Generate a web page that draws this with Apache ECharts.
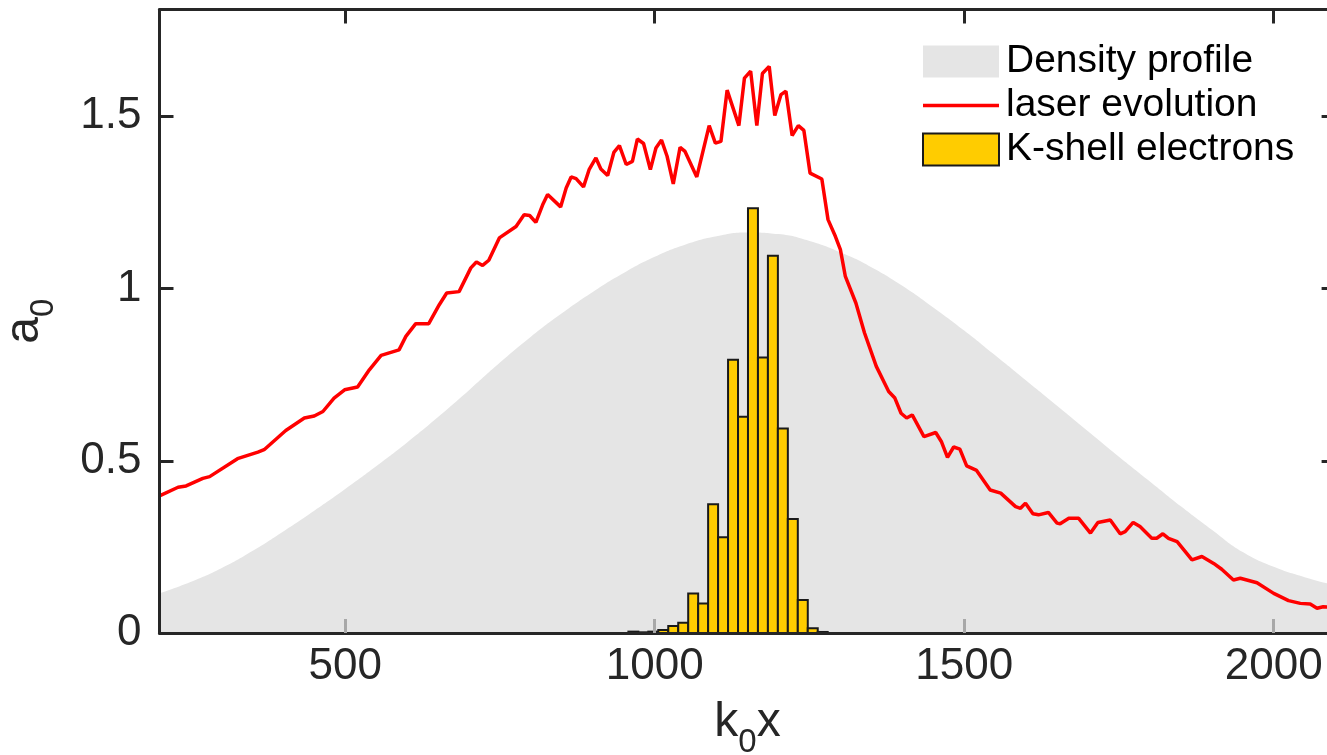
<!DOCTYPE html>
<html>
<head>
<meta charset="utf-8">
<script src="https://cdn.jsdelivr.net/npm/echarts@6/dist/echarts.min.js"></script>
<style>
    html, body { margin: 0; padding: 0; background: #fff; }
    #chart { width: 1327px; height: 755px; }
</style>
</head>
<body>
<div id="chart"></div>
<script>
// laser evolution (a0 against k0x)
const laserX = [200, 230, 243, 270, 281, 326, 359, 369, 404, 434, 450, 464, 482, 499, 520, 539, 558, 587, 598, 614,
    635, 652, 664, 684, 703, 712, 722, 732, 749, 776, 789, 798, 808, 819, 827, 848, 857, 865, 873, 885,
    894, 905, 913, 924, 934, 943, 954, 964, 972, 982, 993, 1002, 1011, 1020, 1030, 1041, 1049, 1068, 1088, 1098,
    1107, 1117, 1136, 1145, 1155, 1165, 1174, 1185, 1194, 1204, 1212, 1222, 1232, 1241, 1251, 1270, 1280, 1292, 1300, 1308,
    1325, 1339, 1358, 1378, 1388, 1398, 1407, 1416, 1435, 1454, 1463, 1473, 1483, 1493, 1504, 1520, 1542, 1559, 1583, 1591,
    1599, 1611, 1620, 1636, 1650, 1655, 1669, 1685, 1704, 1716, 1736, 1752, 1760, 1773, 1784, 1803, 1811, 1821, 1830, 1844,
    1868, 1884, 1903, 1916, 1935, 1946, 1973, 2000, 2024, 2043, 2059, 2070, 2080, 2100];
const laserY = [0.398, 0.423, 0.427, 0.449, 0.454, 0.506, 0.525, 0.532, 0.588, 0.624, 0.630, 0.643, 0.682, 0.706, 0.714, 0.764, 0.806, 0.822, 0.861, 0.898,
    0.898, 0.953, 0.987, 0.991, 1.060, 1.077, 1.067, 1.082, 1.147, 1.180, 1.214, 1.212, 1.192, 1.243, 1.273, 1.237, 1.292, 1.324, 1.319, 1.295,
    1.345, 1.379, 1.347, 1.328, 1.395, 1.415, 1.360, 1.369, 1.434, 1.421, 1.345, 1.408, 1.431, 1.384, 1.304, 1.410, 1.398, 1.324, 1.473, 1.422,
    1.427, 1.576, 1.473, 1.611, 1.631, 1.473, 1.624, 1.645, 1.502, 1.563, 1.573, 1.444, 1.473, 1.459, 1.335, 1.318, 1.200, 1.151, 1.113, 1.035,
    0.958, 0.871, 0.774, 0.701, 0.682, 0.638, 0.624, 0.633, 0.570, 0.582, 0.556, 0.510, 0.540, 0.534, 0.485, 0.472, 0.415, 0.406, 0.367, 0.362,
    0.377, 0.346, 0.343, 0.350, 0.319, 0.317, 0.333, 0.333, 0.290, 0.321, 0.328, 0.288, 0.294, 0.321, 0.309, 0.275, 0.275, 0.288, 0.275, 0.265,
    0.212, 0.222, 0.202, 0.185, 0.154, 0.159, 0.146, 0.115, 0.094, 0.086, 0.084, 0.072, 0.076, 0.074];

// density profile
const densityX = [200, 250, 300, 350, 400, 450, 500, 550, 600, 650, 700, 750, 800, 850, 900, 950, 1000, 1050, 1100, 1150,
    1200, 1250, 1300, 1350, 1400, 1450, 1500, 1550, 1600, 1650, 1700, 1750, 1800, 1850, 1900, 1950, 2000, 2050, 2100];
const densityY = [0.115, 0.148, 0.188, 0.238, 0.295, 0.355, 0.418, 0.484, 0.553, 0.627, 0.705, 0.785, 0.860, 0.928, 0.990, 1.045, 1.092, 1.128, 1.152, 1.163,
    1.158, 1.138, 1.105, 1.062, 1.008, 0.945, 0.878, 0.806, 0.733, 0.660, 0.586, 0.512, 0.440, 0.368, 0.300, 0.235, 0.192, 0.162, 0.138];

// K-shell electrons histogram: bin left edges and heights
const binStart = [957.5, 973.6, 989.7, 1005.8, 1021.9, 1038.0, 1054.1, 1070.2, 1086.3, 1102.4,
    1118.5, 1134.6, 1150.7, 1166.8, 1182.9, 1199.0, 1215.1, 1231.2, 1247.3, 1263.4];
const binHeight = [0.004, 0.002, 0.004, 0.009, 0.020, 0.030, 0.115, 0.086, 0.374, 0.278,
    0.793, 0.628, 1.233, 0.800, 1.095, 0.594, 0.331, 0.096, 0.014, 0.003];
const binWidth = 16.1;

const xTicks = [500, 1000, 1500, 2000];
const yTicks = [0, 0.5, 1, 1.5];
const yTickLabels = ['0', '0.5', '1', '1.5'];

const fontName = '"Liberation Sans", Arial, Helvetica, sans-serif';
const axisColor = '#262626';

const zip = (xs, ys) => xs.map((x, i) => [x, ys[i]]);

function renderBin(params, api) {
    const x0 = api.value(0);
    const h = api.value(1);
    const p0 = api.coord([x0, 0]);
    const p1 = api.coord([x0 + binWidth, h]);
    return {
        type: 'rect',
        shape: { x: p0[0], y: p1[1], width: p1[0] - p0[0], height: p0[1] - p1[1] },
        style: { fill: '#ffcc00', stroke: '#1a1a1a', lineWidth: 2 }
    };
}

// subscript: the taller line box pushes the small 0 below the main letters
const nameRich = {
    n: { fontSize: 48, fontFamily: fontName, color: axisColor, lineHeight: 48, verticalAlign: 'top' },
    s: { fontSize: 33, fontFamily: fontName, color: axisColor, lineHeight: 60, verticalAlign: 'bottom' }
};

function boxAxis(position, min, max, ticks) {
    return {
        type: 'value', position: position, min: min, max: max, z: 5,
        axisLine: { show: true, onZero: false, lineStyle: { color: axisColor, width: 3 } },
        axisTick: { show: true, inside: true, length: 14, customValues: ticks, lineStyle: { color: axisColor, width: 3 } },
        axisLabel: { show: false },
        splitLine: { show: false }
    };
}

const myChart = echarts.init(document.getElementById('chart'));
myChart.setOption({
    backgroundColor: '#fff',
    animation: false,
    grid: { left: 159.5, right: -8.6, top: 9.5, bottom: 122, containLabel: false, outerBoundsMode: 'none' },
    legend: {
        orient: 'vertical', left: 922, top: 42, padding: 0,
        itemWidth: 76, itemHeight: 32, itemGap: 5,
        textStyle: { fontSize: 39, fontFamily: fontName, color: '#000', lineHeight: 32, padding: [0, 0, 0, 2] },
        data: [
            { name: 'Density profile', icon: 'rect', itemStyle: { color: '#e5e5e5', borderWidth: 0, opacity: 1 } },
            { name: 'laser evolution', icon: 'path://M0,0H76V3.5H0Z', itemStyle: { color: '#ff0000', borderWidth: 0 } },
            { name: 'K-shell electrons', icon: 'rect', itemStyle: { color: '#ffcc00', borderColor: '#1a1a1a', borderWidth: 2 } }
        ]
    },
    xAxis: [
        Object.assign(boxAxis('bottom', 200, 2100, xTicks), {
            axisTick: { show: true, inside: true, length: 14, customValues: xTicks, lineStyle: { color: '#a8a8a8', width: 3 } },
            axisLabel: {
                show: true, customValues: xTicks, margin: 12, fontSize: 44, fontFamily: fontName, color: axisColor,
                formatter: (v) => String(v)
            },
            name: '{n|k}{s|0}{n|x}',
            nameLocation: 'middle',
            nameGap: 66,
            nameTextStyle: { rich: nameRich }
        }),
        boxAxis('top', 200, 2100, xTicks)
    ],
    yAxis: [
        Object.assign(boxAxis('left', 0, 1.81, yTicks), {
            axisLabel: {
                show: true, customValues: yTicks, margin: 18, fontSize: 44, fontFamily: fontName, color: axisColor,
                formatter: (v) => yTickLabels[yTicks.indexOf(v)] ?? String(v)
            },
            name: '{n|a}{s|0}',
            nameLocation: 'middle',
            nameGap: 99,
            nameTextStyle: { rich: nameRich }
        }),
        boxAxis('right', 0, 1.81, yTicks)
    ],
    series: [
        {
            name: 'Density profile',
            type: 'line',
            smooth: true,
            symbol: 'none',
            silent: true,
            itemStyle: { color: '#e5e5e5' },
            lineStyle: { width: 0 },
            areaStyle: { color: '#e5e5e5', opacity: 1 },
            data: zip(densityX, densityY)
        },
        {
            name: 'laser evolution',
            type: 'line',
            symbol: 'none',
            z: 3,
            itemStyle: { color: '#ff0000' },
            lineStyle: { color: '#ff0000', width: 3.5 },
            data: zip(laserX, laserY)
        },
        {
            name: 'K-shell electrons',
            type: 'custom',
            z: 4,
            itemStyle: { color: '#ffcc00', borderColor: '#1a1a1a', borderWidth: 2 },
            renderItem: renderBin,
            encode: { x: 0, y: 1 },
            data: zip(binStart, binHeight)
        }
    ]
});
</script>
</body>
</html>
